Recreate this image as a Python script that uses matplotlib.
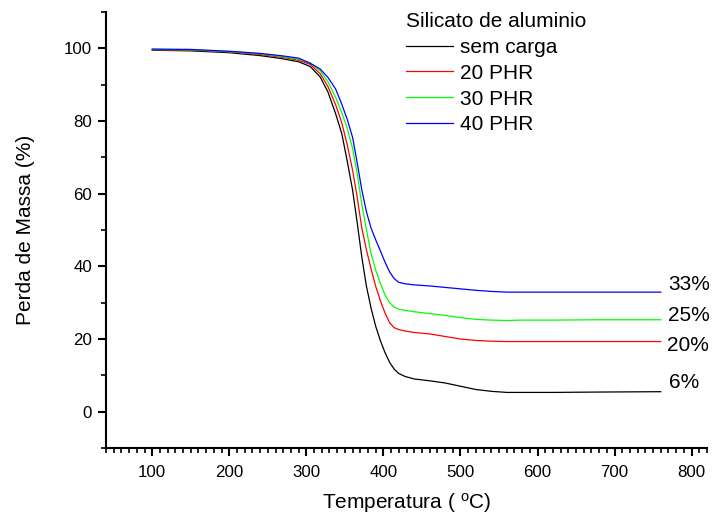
import matplotlib
matplotlib.use('Agg')
import matplotlib.pyplot as plt
from matplotlib.ticker import MultipleLocator

plt.rcParams['font.family'] = ['Liberation Sans', 'DejaVu Sans']
plt.rcParams['mathtext.fontset'] = 'custom'
plt.rcParams['mathtext.rm'] = 'Liberation Sans'
plt.rcParams['mathtext.it'] = 'Liberation Sans:italic'

# Curvas de TGA
temperatura = [100, 150, 200, 240, 270, 290, 305, 318, 328, 338, 346, 353, 360, 366, 372,
               378, 384, 390, 396, 402, 408, 414, 420, 428, 440, 460, 480, 500, 520, 540,
               560, 580, 620, 680, 760]

sem_carga = [99.5, 99.3, 98.8, 98.0, 97.1, 96.3, 95.0, 92.1, 88.0, 82.0, 76.5, 69.0, 61.0, 52.0, 42.5,
             34.5, 28.5, 23.5, 19.6, 16.3, 13.6, 11.7, 10.5, 9.7, 9.0, 8.5, 7.9, 7.0, 6.1, 5.6,
             5.3, 5.3, 5.3, 5.4, 5.5]
phr20 = [99.6, 99.5, 99.0, 98.3, 97.5, 96.7, 95.6, 93.0, 89.5, 84.5, 79.5, 73.5, 66.5, 59.0, 50.5,
         44.5, 39.3, 34.5, 30.6, 27.2, 24.5, 23.1, 22.6, 22.2, 21.8, 21.4, 20.7, 20.0, 19.6, 19.4,
         19.3, 19.3, 19.3, 19.3, 19.3]
phr30 = [99.7, 99.6, 99.1, 98.5, 97.7, 97.0, 96.0, 93.8, 90.8, 86.5, 82.3, 78.0, 72.5, 65.5, 57.0,
         50.0, 43.5, 39.0, 35.3, 32.2, 30.0, 28.8, 28.2, 27.9, 27.5, 27.0, 26.5, 25.9, 25.4, 25.2,
         25.1, 25.2, 25.2, 25.3, 25.3]
phr40 = [99.8, 99.7, 99.2, 98.6, 97.9, 97.3, 95.9, 94.3, 92.0, 88.8, 84.6, 80.5, 75.5, 68.5, 61.0,
         55.0, 50.5, 47.3, 44.3, 41.2, 38.5, 36.6, 35.6, 35.2, 34.9, 34.6, 34.2, 33.8, 33.4, 33.1,
         32.9, 32.9, 32.9, 32.9, 32.9]

series = [sem_carga, phr20, phr30, phr40]
rotulos = ['sem carga', '20 PHR', '30 PHR', '40 PHR']
cores = ['black', '#ff0000', '#00ff00', '#0000ff']

residuo_txt = ['33%', '25%', '20%', '6%']
residuo_pos = [(770, 35.0), (769, 26.4), (768, 18.2), (771, 8.0)]

fig = plt.figure(figsize=(7.13, 5.31), dpi=100)
ax = fig.add_axes([0.1487, 0.1563, 0.8429, 0.8211])

for y, lab, c in zip(series, rotulos, cores):
    ax.plot(temperatura, y, color=c, lw=0.9, label=lab)

for txt, (xp, yp) in zip(residuo_txt, residuo_pos):
    ax.text(xp, yp, txt, fontsize=15, ha='left', va='center')

ax.set_xlim(40, 820)
ax.set_ylim(-10, 110)
ax.xaxis.set_minor_locator(MultipleLocator(10))
ax.yaxis.set_minor_locator(MultipleLocator(10))
ax.set_xticks(range(100, 900, 100))
ax.set_yticks(range(0, 120, 20))

for s in ['top', 'right']:
    ax.spines[s].set_visible(False)
for s in ['left', 'bottom']:
    ax.spines[s].set_linewidth(1.5)
ax.tick_params(which='major', direction='out', length=6, width=1.5, labelsize=12.2, pad=4)
ax.tick_params(which='minor', direction='out', length=3.5, width=1.2)
ax.tick_params(axis='x', which='major', pad=6)

ax.set_xlabel('Temperatura ( $^{\\mathrm{o}}$C)', fontsize=15, labelpad=8)
ax.set_ylabel('Perda de Massa (%)', fontsize=15, labelpad=21)

leg = ax.legend(title='Silicato de aluminio', loc='upper left',
                bbox_to_anchor=(406 / 713, 1 - 12 / 531), bbox_transform=fig.transFigure,
                frameon=False, fontsize=15, title_fontsize=15, borderpad=0, borderaxespad=0,
                handlelength=2.25, handletextpad=0.35, labelspacing=0.33, alignment='left')

fig.savefig('out.png', dpi=100)
